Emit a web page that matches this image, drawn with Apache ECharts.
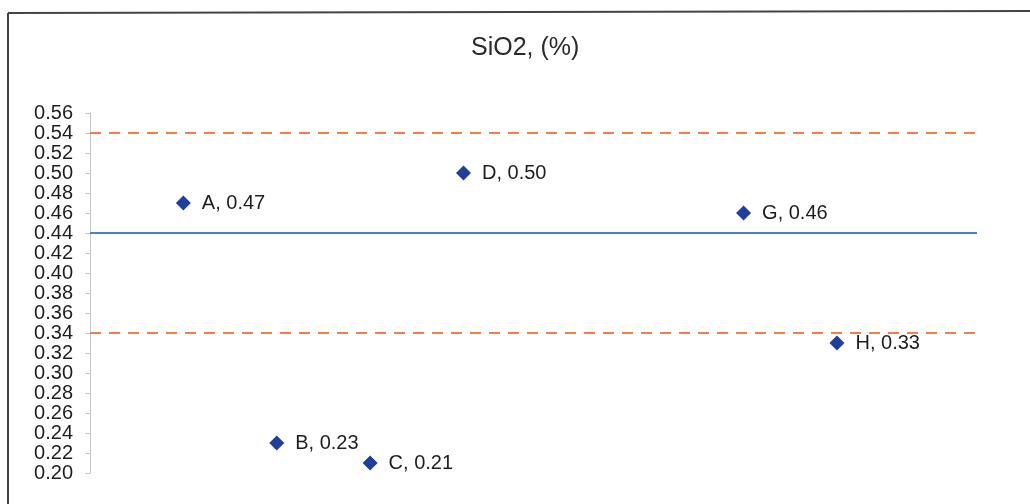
<!DOCTYPE html>
<html>
<head>
<meta charset="utf-8">
<script src="https://cdn.jsdelivr.net/npm/echarts@6/dist/echarts.min.js"></script>
<style>
  html, body { margin: 0; padding: 0; background: #fff; }
  #chart { width: 1030px; height: 504px; }
</style>
</head>
<body>
<div id="chart"></div>
<script>
// Sample names and their SiO2 content (%), placed at positions 1..8
const sampleNames = ['A', 'B', 'C', 'D', 'G', 'H'];
const samplePositions = [1, 2, 3, 4, 7, 8];
const sio2Values = [0.47, 0.23, 0.21, 0.50, 0.46, 0.33];

// Reference value and tolerance band limits
const referenceValue = [0.44];
const toleranceLimits = [0.54, 0.34];

// Y axis range and step
const yMin = 0.20, yMax = 0.56, yStep = 0.02;

const points = sampleNames.map((n, i) => ({ name: n, value: [samplePositions[i], sio2Values[i]] }));

const FONT = 'Liberation Sans, Arial, sans-serif';

const chart = echarts.init(document.getElementById('chart'), null, { renderer: 'canvas' });
chart.setOption({
  animation: false,
  backgroundColor: '#ffffff',
  title: {
    text: 'SiO2, (%)',
    left: 466,
    top: 31,
    textStyle: { fontFamily: FONT, fontSize: 25, fontWeight: 'normal', color: '#2a2a2a' }
  },
  grid: { left: 90, right: 53, top: 113, bottom: 31 },
  xAxis: {
    type: 'value', min: 0, max: 9.5,
    show: false
  },
  yAxis: {
    type: 'value', min: yMin, max: yMax, interval: yStep,
    axisLine: { show: true, lineStyle: { color: '#c8c8c8', width: 1 } },
    axisTick: { show: true, inside: false, length: 5, lineStyle: { color: '#c8c8c8' } },
    splitLine: { show: false },
    axisLabel: {
      margin: 17,
      fontFamily: FONT, fontSize: 20, color: '#1e1e1e',
      formatter: v => v.toFixed(2)
    }
  },
  graphic: [
    { type: 'line', shape: { x1: 8, y1: 13, x2: 1030, y2: 11 }, style: { stroke: '#444', lineWidth: 2 } },
    { type: 'line', shape: { x1: 8, y1: 13, x2: 8, y2: 504 }, style: { stroke: '#444', lineWidth: 2 } }
  ],
  series: [
    {
      type: 'scatter',
      symbol: 'diamond',
      symbolSize: 15,
      itemStyle: { color: '#1f3f9a', opacity: 1 },
      data: points,
      label: {
        show: true, position: 'right', distance: 11,
        fontFamily: FONT, fontSize: 20, color: '#1e1e1e',
        formatter: p => p.name + ', ' + p.value[1].toFixed(2)
      },
      markLine: {
        silent: true, symbol: 'none', label: { show: false },
        data: [
          { yAxis: referenceValue[0], lineStyle: { color: '#4a7fc9', width: 2, type: 'solid' } },
          { yAxis: toleranceLimits[0], lineStyle: { color: '#e9834b', width: 2, type: [11, 8] } },
          { yAxis: toleranceLimits[1], lineStyle: { color: '#e9834b', width: 2, type: [11, 8] } }
        ]
      }
    }
  ]
});
</script>
</body>
</html>
